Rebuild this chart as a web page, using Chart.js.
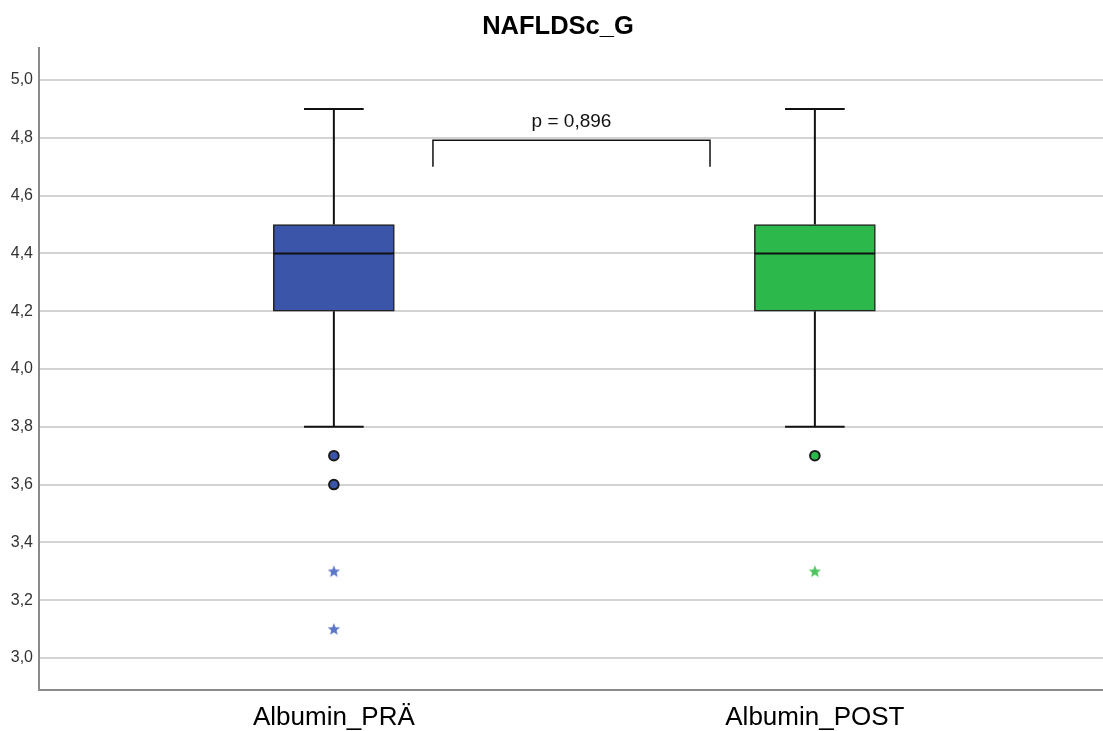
<!DOCTYPE html>
<html>
<head>
<meta charset="utf-8">
<script src="https://cdn.jsdelivr.net/npm/chart.js@4.4.0/dist/chart.umd.min.js"></script>
<style>
  html, body { margin: 0; padding: 0; background: #fff; }
  #wrap { width: 1103px; height: 731px; }
</style>
</head>
<body>
<div id="wrap"><canvas id="chart"></canvas></div>
<script>
// Daten
const categories = ["Albumin_PRÄ", "Albumin_POST"];
const whiskerLow = [3.8, 3.8];
const q1 = [4.2, 4.2];
const median = [4.4, 4.4];
const q3 = [4.5, 4.5];
const whiskerHigh = [4.9, 4.9];
const outliersPre = [3.7, 3.6];
const outliersPost = [3.7];
const extremesPre = [3.3, 3.1];
const extremesPost = [3.3];
const yTicks = [3.0, 3.2, 3.4, 3.6, 3.8, 4.0, 4.2, 4.4, 4.6, 4.8, 5.0];
const pLabel = "p = 0,896";
const bracketX = [0.206, 0.782];
const bracketY = [4.70, 4.792];

const boxColors = ["#3b56a8", "#2cb84a"];
const starColors = ["#5b76c9", "#4cc55c"];

// Stern als Punktsymbol
function makeStar(color) {
    const c = document.createElement("canvas");
    c.width = 14; c.height = 14;
    const g = c.getContext("2d");
    g.fillStyle = color;
    g.beginPath();
    for (let i = 0; i < 10; i++) {
        const r = i % 2 === 0 ? 6.5 : 2.8;
        const a = -Math.PI / 2 + i * Math.PI / 5;
        g.lineTo(7 + r * Math.cos(a), 7.5 + r * Math.sin(a));
    }
    g.closePath();
    g.fill();
    return c;
}

function lineSet(points, order) {
    return {
        type: "line",
        data: points,
        borderColor: "#111",
        borderWidth: 2,
        pointRadius: 0,
        fill: false,
        order: order,
    };
}

const capHalf = 0.062;
const boxHalf = 0.125;
const datasets = [];

categories.forEach((name, i) => {
    // Whisker
    datasets.push(lineSet([{ x: i, y: q3[i] }, { x: i, y: whiskerHigh[i] }], 4));
    datasets.push(lineSet([{ x: i, y: whiskerLow[i] }, { x: i, y: q1[i] }], 4));
    datasets.push(lineSet([{ x: i - capHalf, y: whiskerHigh[i] }, { x: i + capHalf, y: whiskerHigh[i] }], 4));
    datasets.push(lineSet([{ x: i - capHalf, y: whiskerLow[i] }, { x: i + capHalf, y: whiskerLow[i] }], 4));
    // Median
    datasets.push(lineSet([{ x: i - boxHalf, y: median[i] }, { x: i + boxHalf, y: median[i] }], 1));
});

// Boxen
datasets.push({
    type: "bar",
    data: categories.map((c, i) => ({ x: i, y: [q1[i], q3[i]] })),
    backgroundColor: boxColors,
    borderColor: "#222",
    borderWidth: 1.5,
    borderSkipped: false,
    barThickness: 121,
    order: 2,
});

// Ausreißer
datasets.push({
    type: "scatter",
    data: outliersPre.map(v => ({ x: 0, y: v })).concat(outliersPost.map(v => ({ x: 1, y: v }))),
    backgroundColor: outliersPre.map(() => boxColors[0]).concat(outliersPost.map(() => boxColors[1])),
    borderColor: "#1a1a1a",
    borderWidth: 2,
    pointRadius: 4.8,
    order: 0,
});
datasets.push({
    type: "scatter",
    data: extremesPre.map(v => ({ x: 0, y: v })),
    pointStyle: makeStar(starColors[0]),
    order: 0,
});
datasets.push({
    type: "scatter",
    data: extremesPost.map(v => ({ x: 1, y: v })),
    pointStyle: makeStar(starColors[1]),
    order: 0,
});

// Klammer für p-Wert
datasets.push(lineSet([
    { x: bracketX[0], y: bracketY[0] },
    { x: bracketX[0], y: bracketY[1] },
    { x: bracketX[1], y: bracketY[1] },
    { x: bracketX[1], y: bracketY[0] },
], 0));
datasets[datasets.length - 1].borderWidth = 1.5;

const textPlugin = {
    id: "texts",
    afterDraw(chart) {
        const { ctx, scales } = chart;
        ctx.save();
        ctx.fillStyle = "#000";
        ctx.textAlign = "center";
        ctx.textBaseline = "middle";
        ctx.font = "bold 25.5px 'Liberation Sans', Arial, sans-serif";
        ctx.fillText("NAFLDSc_G", 558, 27);
        ctx.font = "19px 'Liberation Sans', Arial, sans-serif";
        ctx.fillStyle = "#111";
        const px = scales.x.getPixelForValue((bracketX[0] + bracketX[1]) / 2);
        const py = scales.y.getPixelForValue(bracketY[1]);
        ctx.fillText(pLabel, px, py - 18);
        ctx.restore();
    },
};

new Chart(document.getElementById("chart"), {
    data: { datasets },
    options: {
        responsive: true,
        maintainAspectRatio: false,
        animation: false,
        layout: { autoPadding: false, padding: { top: 48, right: 0, left: 0, bottom: 0 } },
        plugins: { legend: { display: false }, tooltip: { enabled: false } },
        scales: {
            x: {
                type: "linear",
                min: -0.613,
                max: 1.599,
                offset: false,
                grid: { display: false },
                border: { color: "#8a8a8a", width: 2 },
                afterBuildTicks: (s) => { s.ticks = categories.map((c, i) => ({ value: i })); },
                afterFit: (s) => { s.height = 41; },
                ticks: {
                    padding: 4,
                    color: "#000",
                    font: { size: 26, family: "'Liberation Sans', Arial, sans-serif" },
                    callback: (v) => categories[v],
                },
            },
            y: {
                min: 2.889,
                max: 5.111,
                grid: { color: "#d3d3d3", lineWidth: 2, drawTicks: false },
                border: { color: "#8a8a8a", width: 2 },
                afterBuildTicks: (s) => { s.ticks = yTicks.map(v => ({ value: v })); },
                afterFit: (s) => { s.width = 39; },
                ticks: {
                    padding: 6,
                    color: "#333",
                    font: { size: 16, family: "'Liberation Sans', Arial, sans-serif" },
                    callback: (v) => v.toFixed(1).replace(".", ","),
                },
            },
        },
    },
    plugins: [textPlugin],
});
</script>
</body>
</html>
